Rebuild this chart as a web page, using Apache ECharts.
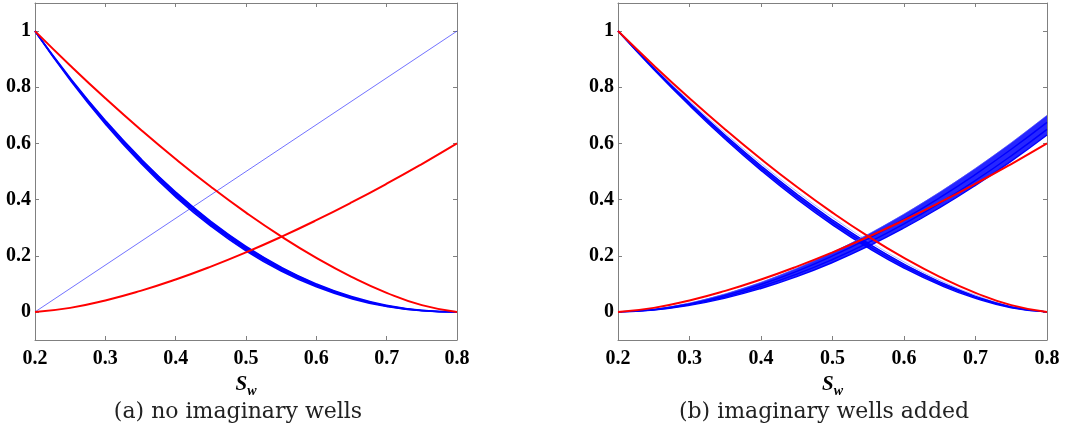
<!DOCTYPE html>
<html>
<head>
<meta charset="utf-8">
<script src="https://cdn.jsdelivr.net/npm/echarts@6/dist/echarts.min.js"></script>
<style>
html,body{margin:0;padding:0;background:#fff;}
#chart{width:1070px;height:436px;}
</style>
</head>
<body>
<div id="chart"></div>
<script>
// Water saturation sample points
const sw = [0.2, 0.25, 0.3, 0.35, 0.4, 0.45, 0.5, 0.55, 0.6, 0.65, 0.7, 0.75, 0.8];
const xTicks = [0.2, 0.3, 0.4, 0.5, 0.6, 0.7, 0.8];
const yTicks = [0, 0.2, 0.4, 0.6, 0.8, 1];

// Reference (red) relative permeability curves, same in both panels
const redKro = [1, 0.8777, 0.7607, 0.6495, 0.5443, 0.4455, 0.3536, 0.2690, 0.1925, 0.125, 0.0680, 0.0241, 0];
const redKrw = [0, 0.0144, 0.0408, 0.075, 0.1155, 0.1614, 0.2121, 0.2673, 0.3266, 0.3897, 0.4564, 0.5266, 0.6];

// Panel (a): estimated curves, no imaginary wells
const aKroBand1 = [1, 0.8330, 0.6819, 0.5466, 0.4268, 0.3224, 0.2333, 0.1591, 0.0996, 0.0544, 0.0232, 0.0054, 0];
const aKroBand2 = [1, 0.8294, 0.6757, 0.5387, 0.4182, 0.3138, 0.2253, 0.1523, 0.0942, 0.0508, 0.0212, 0.0048, 0];
const aKroBand3 = [1, 0.8258, 0.6696, 0.5310, 0.4098, 0.3055, 0.2176, 0.1457, 0.0892, 0.0474, 0.0194, 0.0042, 0];
const aKrwSw = [0.2, 0.8];
const aKrw = [0, 1];

// Panel (b): estimated curves, imaginary wells added
const bKroBand1 = [1, 0.8723, 0.7511, 0.6366, 0.5291, 0.4290, 0.3368, 0.2530, 0.1782, 0.1134, 0.0600, 0.0202, 0];
const bKroBand2 = [1, 0.8693, 0.7456, 0.6293, 0.5206, 0.4199, 0.3276, 0.2443, 0.1705, 0.1073, 0.0559, 0.0183, 0];
const bKroBand3 = [1, 0.8663, 0.7402, 0.6221, 0.5122, 0.4109, 0.3186, 0.2359, 0.1632, 0.1015, 0.0520, 0.0166, 0];
const bKroBand4 = [1, 0.8633, 0.7348, 0.6150, 0.5040, 0.4022, 0.3099, 0.2277, 0.1562, 0.0961, 0.0484, 0.0150, 0];
const bKrwBand1 = [0, 0.0098, 0.0321, 0.0645, 0.1058, 0.1553, 0.2125, 0.2770, 0.3485, 0.4268, 0.5116, 0.6027, 0.70];
const bKrwBand2 = [0, 0.0085, 0.0288, 0.0588, 0.0976, 0.1446, 0.1993, 0.2614, 0.3307, 0.4068, 0.4897, 0.5792, 0.675];
const bKrwBand3 = [0, 0.0074, 0.0258, 0.0536, 0.0900, 0.1344, 0.1867, 0.2464, 0.3133, 0.3873, 0.4681, 0.5558, 0.65];
const bKrwBand4 = [0, 0.0065, 0.0233, 0.0492, 0.0835, 0.1258, 0.1760, 0.2337, 0.2988, 0.3711, 0.4505, 0.5368, 0.63];

const captions = ['(a) no imaginary wells', '(b) imaginary wells added'];

const pts = (xs, ys) => xs.map((x, i) => [x, ys[i]]);
const AX = '#808080';
const labelFont = {fontFamily: 'Liberation Serif', fontWeight: 'bold', fontSize: 20, color: '#000'};

function xAxes(gi) {
  return [
    {
      type: 'value', gridIndex: gi, position: 'bottom', min: 0.2, max: 0.8, interval: 0.1,
      axisLine: {show: true, onZero: false, lineStyle: {color: AX, width: 1}},
      axisTick: {show: true, inside: true, length: 4, lineStyle: {color: AX}, customValues: xTicks},
      axisLabel: Object.assign({margin: 9, formatter: v => v.toFixed(1), customValues: xTicks}, labelFont),
      splitLine: {show: false},
      name: '{s|S}{w|w}', nameLocation: 'middle', nameGap: 27,
      nameTextStyle: {rich: {
        s: {fontFamily: 'Liberation Serif', fontStyle: 'italic', fontWeight: 'bold', fontSize: 21, color: '#000'},
        w: {fontFamily: 'Liberation Serif', fontStyle: 'italic', fontWeight: 'bold', fontSize: 14, color: '#000', padding: [14, 0, 0, 0]}
      }}
    },
    {
      type: 'value', gridIndex: gi, position: 'top', min: 0.2, max: 0.8, interval: 0.1,
      axisLine: {show: true, onZero: false, lineStyle: {color: AX, width: 1}},
      axisTick: {show: true, inside: true, length: 4, lineStyle: {color: AX}, customValues: xTicks},
      axisLabel: {show: false}, splitLine: {show: false}
    }
  ];
}
function yAxes(gi) {
  return [
    {
      type: 'value', gridIndex: gi, position: 'left', min: -0.1, max: 1.1,
      axisLine: {show: true, onZero: false, lineStyle: {color: AX, width: 1}},
      axisTick: {show: true, inside: true, length: 4, lineStyle: {color: AX}, customValues: yTicks},
      axisLabel: Object.assign({margin: 4, customValues: yTicks,
        formatter: v => (Math.abs(v) < 1e-9 ? '0' : Math.abs(v - 1) < 1e-9 ? '1' : v.toFixed(1))}, labelFont),
      splitLine: {show: false}
    },
    {
      type: 'value', gridIndex: gi, position: 'right', min: -0.1, max: 1.1,
      axisLine: {show: true, onZero: false, lineStyle: {color: AX, width: 1}},
      axisTick: {show: true, inside: true, length: 4, lineStyle: {color: AX}, customValues: yTicks},
      axisLabel: {show: false}, splitLine: {show: false}
    }
  ];
}

function line(xi, yi, data, color, width, opacity) {
  return {
    type: 'line', xAxisIndex: xi, yAxisIndex: yi, data: data,
    smooth: 0.5, symbol: 'none', silent: true, animation: false,
    lineStyle: {color: color, width: width, opacity: opacity == null ? 1 : opacity}
  };
}
// filled band between a lower and an upper curve, positioned through the axes
function band(xi, yi, lower, upper, color, opacity) {
  return {
    type: 'custom', xAxisIndex: xi, yAxisIndex: yi, silent: true, animation: false,
    data: [[sw[0], lower[0]]],
    renderItem: function (params, api) {
      const p = [];
      for (let i = 0; i < sw.length; i++) p.push(api.coord([sw[i], upper[i]]));
      for (let i = sw.length - 1; i >= 0; i--) p.push(api.coord([sw[i], lower[i]]));
      return {type: 'polygon', shape: {points: p}, style: {fill: color, opacity: opacity}};
    }
  };
}

const BLUE = '#0000ff', RED = '#ff0000';
const series = [
  // panel (a)
  Object.assign(line(0, 0, pts(aKrwSw, aKrw), '#3a3aff', 0.8, 0.9), {smooth: false}),
  band(0, 0, aKroBand3, aKroBand1, BLUE, 1),
  line(0, 0, pts(sw, aKroBand1), BLUE, 1.6),
  line(0, 0, pts(sw, aKroBand2), BLUE, 1.6),
  line(0, 0, pts(sw, aKroBand3), BLUE, 1.6),
  line(0, 0, pts(sw, redKro), RED, 2),
  line(0, 0, pts(sw, redKrw), RED, 2),
  // panel (b)
  band(2, 2, bKroBand4, bKroBand2, BLUE, 0.85),
  band(2, 2, bKrwBand4, bKrwBand1, BLUE, 0.85),
  line(2, 2, pts(sw, bKroBand1), '#6060ff', 0.8, 0.6),
  line(2, 2, pts(sw, bKroBand2), BLUE, 1.2),
  line(2, 2, pts(sw, bKroBand3), BLUE, 1.4),
  line(2, 2, pts(sw, bKroBand4), BLUE, 1.4),
  line(2, 2, pts(sw, bKrwBand1), '#5050ff', 1.0, 0.7),
  line(2, 2, pts(sw, bKrwBand2), BLUE, 1.4),
  line(2, 2, pts(sw, bKrwBand3), BLUE, 1.4),
  line(2, 2, pts(sw, bKrwBand4), BLUE, 1.4),
  line(2, 2, pts(sw, redKro), RED, 2),
  line(2, 2, pts(sw, redKrw), RED, 2)
];

const chart = echarts.init(document.getElementById('chart'), null, {renderer: 'canvas'});
chart.setOption({
  animation: false,
  backgroundColor: '#fff',
  grid: [
    {left: 35, top: 3, width: 422, height: 337, show: false},
    {left: 618, top: 3, width: 429, height: 337, show: false}
  ],
  xAxis: xAxes(0).concat(xAxes(1)),
  yAxis: yAxes(0).concat(yAxes(1)),
  series: series,
  graphic: [
    {type: 'text', x: 238, y: 412, style: {text: captions[0], align: 'center', verticalAlign: 'middle',
      font: '22px "DejaVu Serif"', fill: '#222'}},
    {type: 'text', x: 824, y: 412, style: {text: captions[1], align: 'center', verticalAlign: 'middle',
      font: '22px "DejaVu Serif"', fill: '#222'}}
  ]
});
</script>
</body>
</html>
